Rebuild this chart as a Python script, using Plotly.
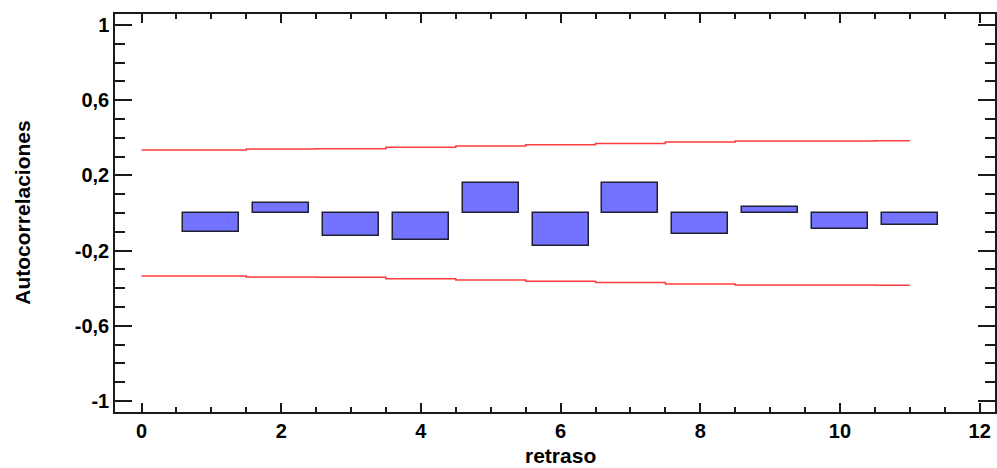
import plotly.graph_objects as go

# Sample autocorrelation by lag
lags = [1, 2, 3, 4, 5, 6, 7, 8, 9, 10, 11]
acf = [-0.103, 0.053, -0.124, -0.145, 0.158, -0.174, 0.158, -0.110, 0.032, -0.083, -0.062]

# Probability limits (upper band; lower band is its mirror), lag 0 repeats lag 1
limit_lags = [0, 1, 2, 3, 4, 5, 6, 7, 8, 9, 10, 11]
upper_limit = [0.335, 0.335, 0.341, 0.342, 0.350, 0.357, 0.363, 0.370, 0.377, 0.383, 0.383, 0.384]
lower_limit = [-v for v in upper_limit]

y_tickvals = [-1, -0.6, -0.2, 0.2, 0.6, 1]
y_ticktext = ["-1", "-0,6", "-0,2", "0,2", "0,6", "1"]
x_tickvals = [0, 2, 4, 6, 8, 10, 12]
x_ticktext = ["0", "2", "4", "6", "8", "10", "12"]

FONT = "Liberation Sans, Arial, sans-serif"
AXIS_COLOR = "#1a1a1a"

fig = go.Figure()

fig.add_trace(go.Bar(
    x=lags, y=acf, base=0, width=0.8,
    marker=dict(color="rgb(115,115,255)", line=dict(color="#202030", width=1.5)),
    showlegend=False,
))

for lim in (upper_limit, lower_limit):
    fig.add_trace(go.Scatter(
        x=limit_lags, y=lim, mode="lines",
        line=dict(color="rgb(255,60,60)", width=1.5, shape="hvh"),
        showlegend=False, hoverinfo="skip",
    ))

fig.update_layout(
    width=997, height=468,
    margin=dict(l=115, r=0, t=14, b=56),
    plot_bgcolor="white", paper_bgcolor="white",
    font=dict(family=FONT, size=20, color="black"),
    separators=",.",
    bargap=0,
)

fig.update_xaxes(
    range=[-0.38, 12.22],
    tickmode="array", tickvals=x_tickvals, ticktext=x_ticktext,
    ticks="inside", ticklen=9, tickwidth=1.5, tickcolor=AXIS_COLOR,
    minor=dict(tickmode="linear", tick0=0, dtick=0.5, ticks="inside",
               ticklen=5, tickwidth=1.5, tickcolor=AXIS_COLOR),
    showline=True, linecolor=AXIS_COLOR, linewidth=1.5, mirror="ticks",
    showgrid=False, zeroline=False,
    tickfont=dict(family=FONT, size=20, color="black", weight="bold"),
)

fig.update_yaxes(
    range=[-1.0585, 1.0585],
    tickmode="array", tickvals=y_tickvals, ticktext=y_ticktext,
    ticks="inside", ticklen=17, tickwidth=1.5, tickcolor=AXIS_COLOR,
    minor=dict(tickmode="linear", tick0=0, dtick=0.1, ticks="inside",
               ticklen=10, tickwidth=1.5, tickcolor=AXIS_COLOR),
    showline=True, linecolor=AXIS_COLOR, linewidth=1.5, mirror="ticks",
    showgrid=False, zeroline=False,
    tickfont=dict(family=FONT, size=20, color="black", weight="bold"),
)

# x-axis title, bottom-anchored at the page edge
fig.add_annotation(
    text="<b>retraso</b>", x=6, xref="x", y=-56 / 398, yref="paper",
    showarrow=False, font=dict(family=FONT, size=21, color="black"),
    xanchor="center", yanchor="bottom", borderpad=0,
)
fig.add_annotation(
    text="<b>Autocorrelaciones</b>", x=(21.5 - 115) / 882, xref="paper", y=0, yref="y",
    showarrow=False, textangle=-90, font=dict(family=FONT, size=21, color="black"),
    xanchor="center", yanchor="middle",
)

fig.write_html("out.html")
